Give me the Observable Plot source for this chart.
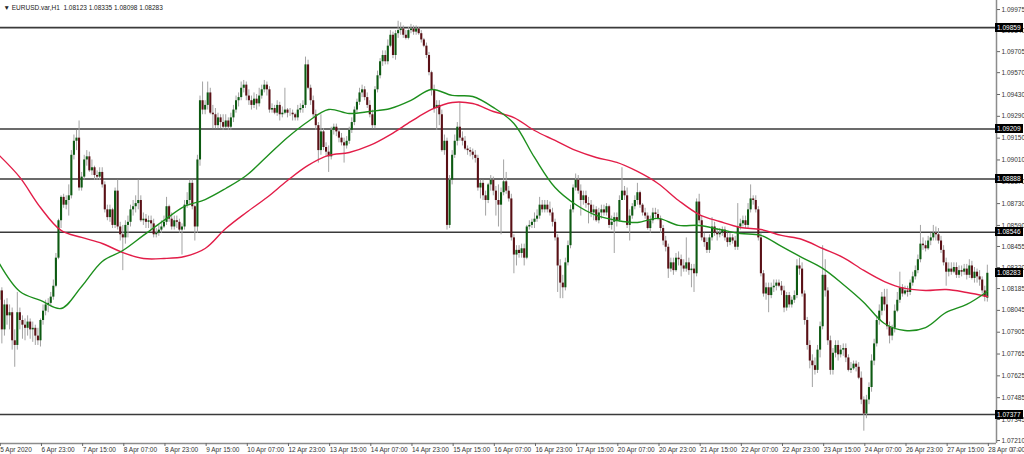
<!DOCTYPE html>
<html><head><meta charset="utf-8">
<script src="https://cdn.jsdelivr.net/npm/d3@7"></script>
<script src="https://cdn.jsdelivr.net/npm/@observablehq/plot@0.6"></script>
<style>
html,body{margin:0;background:#fff;overflow:hidden;}
#chart{position:relative;width:1024px;height:454px;overflow:hidden;}
.pbox{position:absolute;left:995px;width:28px;height:9px;background:#000;color:#fff;
  font:6.5px "Liberation Sans",Arial,sans-serif;line-height:9px;padding-left:2px;box-sizing:border-box;white-space:nowrap;}
</style></head><body><div id="chart"></div>
<script>
const titleText = "\u25BC EURUSD.var,H1  1.08123 1.08335 1.08098 1.08283";

const open = [
1.0811,1.0817,1.0792,1.0808,1.0801,1.0803,1.0785,1.0782,1.0803,1.0798,
1.0795,1.0793,1.0797,1.0792,1.0793,1.0788,1.0785,1.0798,1.0804,1.0808,
1.0809,1.0813,1.0820,1.0838,1.0862,1.0877,1.0872,1.0875,1.0878,1.0904,
1.0913,1.0915,1.0883,1.0890,1.0901,1.0903,1.0894,1.0896,1.0891,1.0890,
1.0893,1.0885,1.0869,1.0864,1.0869,1.0859,1.0881,1.0858,1.0853,1.0851,
1.0859,1.0861,1.0869,1.0871,1.0873,1.0875,1.0862,1.0863,1.0861,1.0862,
1.0860,1.0853,1.0854,1.0856,1.0858,1.0861,1.0871,1.0863,1.0858,1.0862,
1.0861,1.0856,1.0858,1.0872,1.0875,1.0886,1.0871,1.0858,1.0901,1.0939,
1.0933,1.0936,1.0944,1.0931,1.0930,1.0923,1.0928,1.0925,1.0922,1.0926,
1.0922,1.0928,1.0933,1.0939,1.0941,1.0947,1.0949,1.0942,1.0939,1.0936,
1.0940,1.0937,1.0942,1.0946,1.0949,1.0946,1.0933,1.0934,1.0931,1.0936,
1.0930,1.0931,1.0933,1.0931,1.0931,1.0930,1.0928,1.0933,1.0934,1.0936,
1.0962,1.0947,1.0939,1.0930,1.0923,1.0907,1.0919,1.0909,1.0906,1.0903,
1.0920,1.0922,1.0919,1.0915,1.0912,1.0910,1.0913,1.0920,1.0925,1.0933,
1.0938,1.0944,1.0946,1.0941,1.0936,1.0930,1.0923,1.0946,1.0955,1.0964,
1.0968,1.0964,1.0974,1.0981,1.0968,1.0982,1.0984,1.0985,1.0981,1.0979,
1.0984,1.0985,1.0983,1.0985,1.0982,1.0978,1.0974,1.0968,1.0957,1.0946,
1.0934,1.0936,1.0930,1.0907,1.0913,1.0859,1.0888,1.0904,1.0913,1.0922,
1.0915,1.0913,1.0908,1.0907,1.0906,1.0904,1.0902,1.0883,1.0886,1.0878,
1.0875,1.0885,1.0888,1.0881,1.0875,1.0872,1.0880,1.0887,1.0881,1.0876,
1.0851,1.0840,1.0843,1.0841,1.0844,1.0838,1.0858,1.0859,1.0861,1.0863,
1.0865,1.0872,1.0869,1.0872,1.0869,1.0867,1.0861,1.0851,1.0833,1.0822,
1.0819,1.0835,1.0846,1.0869,1.0883,1.0888,1.0881,1.0875,1.0878,1.0873,
1.0872,1.0867,1.0869,1.0862,1.0867,1.0869,1.0867,1.0871,1.0859,1.0861,
1.0864,1.0862,1.0875,1.0881,1.0878,1.0859,1.0865,1.0871,1.0875,1.0880,
1.0872,1.0867,1.0865,1.0857,1.0862,1.0867,1.0866,1.0863,1.0857,1.0849,
1.0845,1.0831,1.0835,1.0830,1.0838,1.0837,1.0833,1.0831,1.0835,1.0830,
1.0831,1.0828,1.0874,1.0862,1.0851,1.0848,1.0843,1.0851,1.0858,1.0854,
1.0853,1.0854,1.0856,1.0851,1.0848,1.0851,1.0849,1.0845,1.0858,1.0860,
1.0862,1.0859,1.0869,1.0876,1.0875,1.0869,1.0851,1.0828,1.0815,1.0819,
1.0814,1.0819,1.0820,1.0822,1.0820,1.0817,1.0806,1.0814,1.0808,1.0811,
1.0814,1.0833,1.0831,1.0815,1.0798,1.0782,1.0772,1.0769,1.0766,1.0779,
1.0794,1.0827,1.0817,1.0785,1.0766,1.0777,1.0782,1.0776,1.0779,1.0780,
1.0774,1.0766,1.0767,1.0770,1.0768,1.0761,1.0747,1.0738,1.0747,1.0755,
1.0772,1.0783,1.0798,1.0804,1.0813,1.0808,1.0794,1.0788,1.0793,1.0804,
1.0811,1.0819,1.0815,1.0817,1.0816,1.0822,1.0826,1.0830,1.0837,1.0847,
1.0846,1.0844,1.0849,1.0851,1.0854,1.0853,1.0849,1.0843,1.0835,1.0829,
1.0831,1.0829,1.0832,1.0827,1.0830,1.0829,1.0831,1.0827,1.0833,1.0825,
1.0829,1.0826,1.0824,1.0817,1.08123];

const high = [
1.0820,1.0819,1.0811,1.0812,1.0808,1.0806,1.0792,1.0816,1.0806,1.0801,
1.0799,1.0801,1.0799,1.0797,1.0795,1.0793,1.0799,1.0808,1.0811,1.0812,
1.0816,1.0824,1.0841,1.0863,1.0878,1.0879,1.0878,1.0885,1.0907,1.0917,
1.0920,1.0926,1.0893,1.0904,1.0907,1.0906,1.0901,1.0897,1.0894,1.0896,
1.0896,1.0887,1.0872,1.0872,1.0870,1.0883,1.0888,1.0861,1.0859,1.0862,
1.0865,1.0872,1.0875,1.0878,1.0888,1.0878,1.0867,1.0866,1.0865,1.0865,
1.0863,1.0857,1.0859,1.0862,1.0865,1.0877,1.0872,1.0867,1.0865,1.0865,
1.0863,1.0860,1.0875,1.0880,1.0888,1.0888,1.0872,1.0904,1.0942,1.0951,
1.0939,1.0951,1.0947,1.0936,1.0934,1.0931,1.0930,1.0930,1.0930,1.0928,
1.0931,1.0936,1.0942,1.0944,1.0951,1.0952,1.0951,1.0946,1.0942,1.0944,
1.0943,1.0947,1.0949,1.0952,1.0951,1.0948,1.0937,1.0936,1.0939,1.0938,
1.0935,1.0947,1.0934,1.0934,1.0933,1.0931,1.0936,1.0937,1.0939,1.0967,
1.0965,1.0949,1.0942,1.0933,1.0925,1.0930,1.0921,1.0912,1.0910,1.0922,
1.0924,1.0924,1.0921,1.0918,1.0915,1.0916,1.0922,1.0928,1.0935,1.0940,
1.0947,1.0949,1.0948,1.0944,1.0939,1.0933,1.0948,1.0958,1.0966,1.0971,
1.0971,1.0978,1.0984,1.0983,1.0984,1.0990,1.0989,1.0987,1.0984,1.0986,
1.0988,1.0987,1.0987,1.0986,1.0984,1.0979,1.0976,1.0970,1.0958,1.0949,
1.0939,1.0939,1.0933,1.0917,1.0915,1.0891,1.0907,1.0917,1.0925,1.0938,
1.0919,1.0916,1.0910,1.0909,1.0908,1.0907,1.0904,1.0888,1.0888,1.0881,
1.0886,1.0891,1.0890,1.0884,1.0885,1.0883,1.0901,1.0893,1.0884,1.0879,
1.0853,1.0846,1.0846,1.0847,1.0847,1.0859,1.0862,1.0863,1.0867,1.0869,
1.0877,1.0875,1.0875,1.0875,1.0874,1.0870,1.0863,1.0853,1.0837,1.0827,
1.0838,1.0849,1.0872,1.0885,1.0892,1.0891,1.0885,1.0881,1.0881,1.0877,
1.0875,1.0872,1.0871,1.0870,1.0872,1.0872,1.0873,1.0872,1.0865,1.0867,
1.0867,1.0878,1.0896,1.0884,1.0883,1.0869,1.0873,1.0878,1.0886,1.0881,
1.0873,1.0870,1.0867,1.0865,1.0870,1.0870,1.0869,1.0865,1.0859,1.0852,
1.0847,1.0838,1.0838,1.0841,1.0842,1.0840,1.0837,1.0851,1.0838,1.0834,
1.0834,1.0876,1.0879,1.0865,1.0854,1.0851,1.0853,1.0864,1.0861,1.0857,
1.0857,1.0858,1.0858,1.0854,1.0854,1.0853,1.0852,1.0873,1.0863,1.0865,
1.0865,1.0873,1.0885,1.0878,1.0878,1.0871,1.0854,1.0830,1.0822,1.0822,
1.0822,1.0824,1.0824,1.0824,1.0823,1.0820,1.0816,1.0816,1.0813,1.0817,
1.0837,1.0838,1.0835,1.0817,1.0800,1.0785,1.0776,1.0774,1.0782,1.0797,
1.0846,1.0837,1.0819,1.0788,1.0780,1.0785,1.0785,1.0782,1.0783,1.0783,
1.0776,1.0771,1.0772,1.0772,1.0771,1.0765,1.0749,1.0750,1.0758,1.0776,
1.0786,1.0801,1.0808,1.0816,1.0818,1.0818,1.0797,1.0795,1.0808,1.0816,
1.0829,1.0821,1.0820,1.0820,1.0824,1.0829,1.0833,1.0840,1.0859,1.0851,
1.0849,1.0852,1.0854,1.0859,1.0858,1.0857,1.0852,1.0846,1.0838,1.0835,
1.0835,1.0835,1.0835,1.0833,1.0833,1.0834,1.0834,1.0837,1.0836,1.0832,
1.0831,1.0830,1.0826,1.0820,1.08335];

const low = [
1.0799,1.0783,1.0788,1.0795,1.0792,1.0779,1.0768,1.0779,1.0792,1.0786,
1.0785,1.0788,1.0786,1.0784,1.0782,1.0782,1.0781,1.0795,1.0801,1.0803,
1.0807,1.0811,1.0819,1.0837,1.0857,1.0870,1.0869,1.0865,1.0876,1.0901,
1.0907,1.0881,1.0881,1.0888,1.0897,1.0893,1.0891,1.0888,1.0888,1.0888,
1.0883,1.0867,1.0862,1.0861,1.0857,1.0857,1.0856,1.0849,1.0830,1.0847,
1.0851,1.0858,1.0865,1.0867,1.0869,1.0861,1.0859,1.0857,1.0857,1.0856,
1.0851,1.0851,1.0852,1.0854,1.0857,1.0859,1.0861,1.0856,1.0856,1.0857,
1.0854,1.0840,1.0856,1.0870,1.0872,1.0869,1.0849,1.0854,1.0897,1.0930,
1.0930,1.0933,1.0930,1.0921,1.0921,1.0921,1.0921,1.0920,1.0921,1.0920,
1.0920,1.0925,1.0931,1.0935,1.0939,1.0944,1.0939,1.0936,1.0933,1.0934,
1.0933,1.0935,1.0940,1.0944,1.0942,1.0931,1.0931,1.0930,1.0929,1.0926,
1.0928,1.0930,1.0928,1.0929,1.0926,1.0926,1.0926,1.0931,1.0931,1.0934,
1.0946,1.0936,1.0928,1.0920,1.0899,1.0904,1.0907,1.0903,1.0893,1.0901,
1.0917,1.0916,1.0912,1.0910,1.0899,1.0908,1.0911,1.0918,1.0923,1.0931,
1.0936,1.0941,1.0939,1.0934,1.0928,1.0921,1.0921,1.0944,1.0953,1.0961,
1.0962,1.0962,1.0973,1.0966,1.0965,1.0979,1.0981,1.0979,1.0978,1.0978,
1.0982,1.0981,1.0981,1.0981,1.0976,1.0973,1.0966,1.0955,1.0942,1.0931,
1.0920,1.0923,1.0906,1.0904,1.0856,1.0857,1.0885,1.0902,1.0910,1.0913,
1.0910,1.0907,1.0904,1.0903,1.0901,1.0899,1.0881,1.0876,1.0875,1.0865,
1.0873,1.0881,1.0878,1.0865,1.0858,1.0853,1.0878,1.0879,1.0874,1.0849,
1.0828,1.0833,1.0838,1.0838,1.0833,1.0837,1.0856,1.0857,1.0857,1.0861,
1.0863,1.0867,1.0867,1.0867,1.0865,1.0858,1.0849,1.0816,1.0812,1.0812,
1.0817,1.0833,1.0844,1.0867,1.0881,1.0879,1.0865,1.0872,1.0870,1.0860,
1.0864,1.0862,1.0861,1.0860,1.0863,1.0865,1.0865,1.0857,1.0856,1.0841,
1.0858,1.0861,1.0875,1.0875,1.0857,1.0849,1.0863,1.0869,1.0872,1.0870,
1.0865,1.0863,1.0856,1.0854,1.0860,1.0863,1.0862,1.0854,1.0846,1.0842,
1.0825,1.0829,1.0827,1.0829,1.0833,1.0826,1.0829,1.0829,1.0827,1.0819,
1.0816,1.0826,1.0860,1.0849,1.0845,1.0841,1.0841,1.0849,1.0852,1.0849,
1.0851,1.0852,1.0849,1.0845,1.0846,1.0847,1.0843,1.0843,1.0856,1.0858,
1.0857,1.0857,1.0867,1.0872,1.0867,1.0849,1.0826,1.0813,1.0811,1.0803,
1.0812,1.0816,1.0817,1.0819,1.0814,1.0803,1.0804,1.0806,1.0806,1.0809,
1.0812,1.0827,1.0813,1.0795,1.0779,1.0767,1.0755,1.0763,1.0764,1.0774,
1.0792,1.0813,1.0782,1.0763,1.0763,1.0774,1.0772,1.0774,1.0775,1.0771,
1.0765,1.0764,1.0766,1.0765,1.0760,1.0744,1.0727,1.0735,1.0744,1.0752,
1.0769,1.0781,1.0795,1.0801,1.0804,1.0792,1.0783,1.0785,1.0790,1.0803,
1.0809,1.0813,1.0814,1.0813,1.0814,1.0820,1.0824,1.0828,1.0835,1.0843,
1.0842,1.0843,1.0846,1.0849,1.0849,1.0847,1.0841,1.0833,1.0820,1.0826,
1.0827,1.0828,1.0825,1.0825,1.0826,1.0827,1.0824,1.0825,1.0824,1.0822,
1.0822,1.0820,1.0815,1.0810,1.08098];

const close = [
1.0817,1.0792,1.0808,1.0801,1.0803,1.0785,1.0782,1.0803,1.0798,1.0795,
1.0793,1.0797,1.0792,1.0793,1.0788,1.0785,1.0798,1.0804,1.0808,1.0809,
1.0813,1.0820,1.0838,1.0862,1.0877,1.0872,1.0875,1.0878,1.0904,1.0913,
1.0915,1.0883,1.0890,1.0901,1.0903,1.0894,1.0896,1.0891,1.0890,1.0893,
1.0885,1.0869,1.0864,1.0869,1.0859,1.0881,1.0858,1.0853,1.0851,1.0859,
1.0861,1.0869,1.0871,1.0873,1.0875,1.0862,1.0863,1.0861,1.0862,1.0860,
1.0853,1.0854,1.0856,1.0858,1.0861,1.0871,1.0863,1.0858,1.0862,1.0861,
1.0856,1.0858,1.0872,1.0875,1.0886,1.0871,1.0858,1.0901,1.0939,1.0933,
1.0936,1.0944,1.0931,1.0930,1.0923,1.0928,1.0925,1.0922,1.0926,1.0922,
1.0928,1.0933,1.0939,1.0941,1.0947,1.0949,1.0942,1.0939,1.0936,1.0940,
1.0937,1.0942,1.0946,1.0949,1.0946,1.0933,1.0934,1.0931,1.0936,1.0930,
1.0931,1.0933,1.0931,1.0931,1.0930,1.0928,1.0933,1.0934,1.0936,1.0962,
1.0947,1.0939,1.0930,1.0923,1.0907,1.0919,1.0909,1.0906,1.0903,1.0920,
1.0922,1.0919,1.0915,1.0912,1.0910,1.0913,1.0920,1.0925,1.0933,1.0938,
1.0944,1.0946,1.0941,1.0936,1.0930,1.0923,1.0946,1.0955,1.0964,1.0968,
1.0964,1.0974,1.0981,1.0968,1.0982,1.0984,1.0985,1.0981,1.0979,1.0984,
1.0985,1.0983,1.0985,1.0982,1.0978,1.0974,1.0968,1.0957,1.0946,1.0934,
1.0936,1.0930,1.0907,1.0913,1.0859,1.0888,1.0904,1.0913,1.0922,1.0915,
1.0913,1.0908,1.0907,1.0906,1.0904,1.0902,1.0883,1.0886,1.0878,1.0875,
1.0885,1.0888,1.0881,1.0875,1.0872,1.0880,1.0887,1.0881,1.0876,1.0851,
1.0840,1.0843,1.0841,1.0844,1.0838,1.0858,1.0859,1.0861,1.0863,1.0865,
1.0872,1.0869,1.0872,1.0869,1.0867,1.0861,1.0851,1.0833,1.0822,1.0819,
1.0835,1.0846,1.0869,1.0883,1.0888,1.0881,1.0875,1.0878,1.0873,1.0872,
1.0867,1.0869,1.0862,1.0867,1.0869,1.0867,1.0871,1.0859,1.0861,1.0864,
1.0862,1.0875,1.0881,1.0878,1.0859,1.0865,1.0871,1.0875,1.0880,1.0872,
1.0867,1.0865,1.0857,1.0862,1.0867,1.0866,1.0863,1.0857,1.0849,1.0845,
1.0831,1.0835,1.0830,1.0838,1.0837,1.0833,1.0831,1.0835,1.0830,1.0831,
1.0828,1.0874,1.0862,1.0851,1.0848,1.0843,1.0851,1.0858,1.0854,1.0853,
1.0854,1.0856,1.0851,1.0848,1.0851,1.0849,1.0845,1.0858,1.0860,1.0862,
1.0859,1.0869,1.0876,1.0875,1.0869,1.0851,1.0828,1.0815,1.0819,1.0814,
1.0819,1.0820,1.0822,1.0820,1.0817,1.0806,1.0814,1.0808,1.0811,1.0814,
1.0833,1.0831,1.0815,1.0798,1.0782,1.0772,1.0769,1.0766,1.0779,1.0794,
1.0827,1.0817,1.0785,1.0766,1.0777,1.0782,1.0776,1.0779,1.0780,1.0774,
1.0766,1.0767,1.0770,1.0768,1.0761,1.0747,1.0738,1.0747,1.0755,1.0772,
1.0783,1.0798,1.0804,1.0813,1.0808,1.0794,1.0788,1.0793,1.0804,1.0811,
1.0819,1.0815,1.0817,1.0816,1.0822,1.0826,1.0830,1.0837,1.0847,1.0846,
1.0844,1.0849,1.0851,1.0854,1.0853,1.0849,1.0843,1.0835,1.0829,1.0831,
1.0829,1.0832,1.0827,1.0830,1.0829,1.0831,1.0827,1.0833,1.0825,1.0829,
1.0826,1.0824,1.0817,1.0813,1.08283];

// moving averages, read every 8 bars
const maBars = [0,8,16,24,32,40,48,56,64,72,80,88,96,104,112,120,128,136,144,152,160,168,176,184,192,200,208,216,224,232,240,248,256,264,272,280,288,296,304,312,320,328,336,344,352,360,368,376,384];
const maFast = [1.08346,1.08166,1.08109,1.08057,1.08198,1.08359,1.08429,1.08526,1.08622,1.08712,1.08756,1.08827,1.08910,1.09032,1.09154,1.09257,1.09334,1.09308,1.09321,1.09340,1.09392,1.09462,1.09424,1.09417,1.09347,1.09244,1.09026,1.08833,1.08724,1.08654,1.08622,1.08609,1.08635,1.08590,1.08590,1.08564,1.08538,1.08526,1.08455,1.08384,1.08314,1.08211,1.08096,1.07961,1.07916,1.07935,1.08032,1.08083,1.08166];
const maSlow = [1.09039,1.08898,1.08705,1.08558,1.08513,1.08474,1.08416,1.08378,1.08378,1.08391,1.08442,1.08570,1.08673,1.08769,1.08878,1.08975,1.09039,1.09058,1.09103,1.09173,1.09257,1.09334,1.09379,1.09372,1.09321,1.09282,1.09199,1.09135,1.09071,1.09026,1.08994,1.08936,1.08859,1.08750,1.08660,1.08615,1.08577,1.08564,1.08526,1.08500,1.08442,1.08384,1.08301,1.08230,1.08186,1.08173,1.08179,1.08160,1.08134];

const levels = [1.09859, 1.09209, 1.08888, 1.08546, 1.07377];
const lastPrice = 1.08283;

const priceTicks = [1.09975,1.09840,1.09705,1.09570,1.09430,1.09290,1.09150,1.09010,1.08870,1.08730,1.08590,1.08455,1.08320,1.08185,1.08045,1.07905,1.07765,1.07625,1.07485,1.07345,1.07210];

const timeTickBars = [0,16,32,48,64,80,96,112,128,144,160,176,192,208,224,240,256,272,288,304,320,336,352,368,384];
const timeLabels = ["5 Apr 2020","6 Apr 23:00","7 Apr 15:00","8 Apr 07:00","8 Apr 23:00","9 Apr 15:00","10 Apr 07:00","12 Apr 23:00","13 Apr 15:00","14 Apr 07:00","14 Apr 23:00","15 Apr 15:00","16 Apr 07:00","16 Apr 23:00","17 Apr 15:00","20 Apr 07:00","20 Apr 23:00","21 Apr 15:00","22 Apr 07:00","22 Apr 23:00","23 Apr 15:00","24 Apr 07:00","26 Apr 23:00","27 Apr 15:00","28 Apr 07:00"];

const bars = close.map((c, i) => ({i, open: open[i], high: high[i], low: low[i], close: c}));
const maRows = maBars.map((b, k) => ({i: b, fast: maFast[k], slow: maSlow[k]}));
const labelByBar = new Map(timeTickBars.map((b, k) => [b, timeLabels[k]]));

const bull = "#0d5a12", bear = "#5a1016";
const xDomain = [0.466, 387.56];
const yDomain = [1.07191, 1.10033];
const font = "Liberation Sans, Arial, sans-serif";

const plot = Plot.plot({
  width: 1024, height: 454,
  marginLeft: 0, marginRight: 28, marginTop: 0, marginBottom: 11,
  x: {type: "linear", domain: xDomain, axis: null},
  y: {type: "linear", domain: yDomain, axis: null},
  style: {fontFamily: font, fontSize: "6.5px", background: "#fff"},
  marks: [
    Plot.ruleY(levels, {stroke: "#3a3a3a", strokeWidth: 1.6}),
    Plot.ruleX(bars, {x: "i", y1: "low", y2: "high", stroke: "#a3a3a3", strokeWidth: 1}),
    Plot.ruleX(bars, {x: "i", y1: "open", y2: "close", stroke: d => d.close >= d.open ? bull : bear, strokeWidth: 2.1}),
    Plot.line(maRows, {x: "i", y: "slow", stroke: "#e21d48", strokeWidth: 1.4, curve: "catmull-rom"}),
    Plot.line(maRows, {x: "i", y: "fast", stroke: "#1d8f1d", strokeWidth: 1.4, curve: "catmull-rom"}),
    Plot.ruleX([xDomain[1]], {stroke: "#8c8c8c", strokeWidth: 1.5}),
    Plot.ruleY([yDomain[0]], {stroke: "#8c8c8c", strokeWidth: 1.5}),
    Plot.axisY(priceTicks, {anchor: "right", tickSize: 3, tickPadding: 2, tickFormat: d => d.toFixed(5), stroke: "#666", fill: "#333", fontSize: 6.5}),
    Plot.axisX(timeTickBars, {anchor: "bottom", tickSize: 3, tickPadding: 1, textAnchor: "start", dx: 1, tickFormat: d => labelByBar.get(d), stroke: "#666", fill: "#333", fontSize: 6.5}),
    Plot.text([titleText], {frameAnchor: "top-left", dx: 3, dy: 5, textAnchor: "start", fontSize: 6.5, fill: "#222"})
  ]
});

const chart = document.getElementById("chart");
chart.appendChild(plot);

// price labels on the right (black boxes), placed with the plot's y scale
const ys = plot.scale("y");
levels.concat([lastPrice]).forEach(v => {
  const div = document.createElement("div");
  div.className = "pbox";
  div.style.top = (ys.apply(v) - 4.5) + "px";
  div.textContent = v.toFixed(5);
  chart.appendChild(div);
});
</script>
</body></html>
